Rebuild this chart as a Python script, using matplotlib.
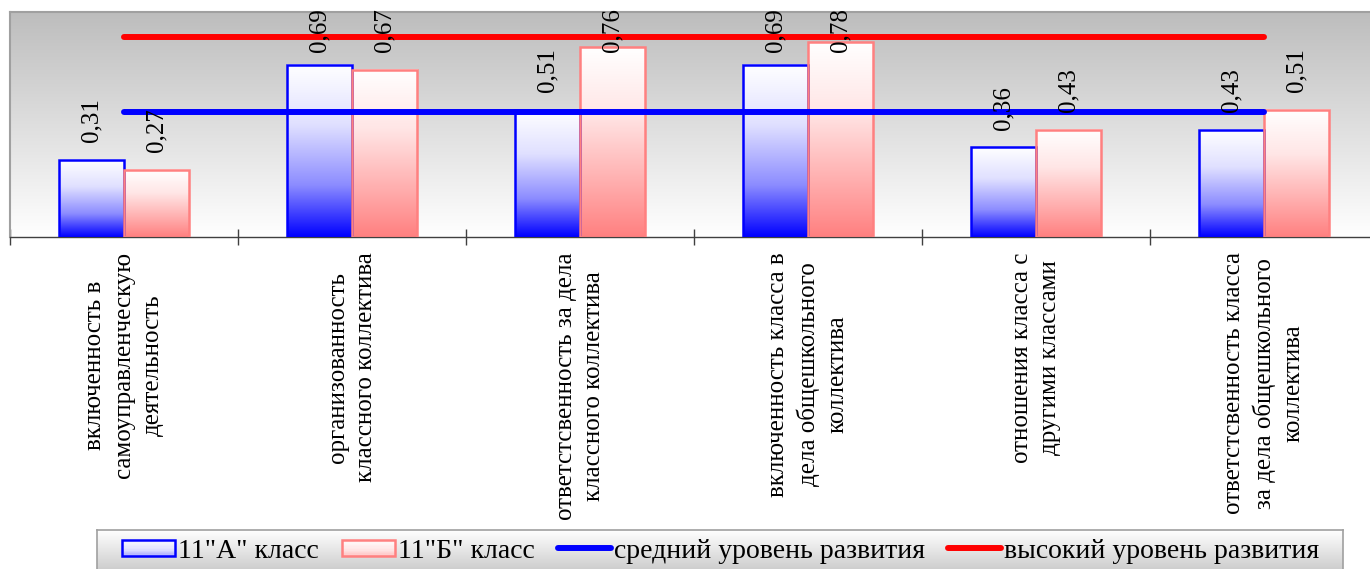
import numpy as np
import matplotlib.pyplot as plt
from matplotlib.colors import LinearSegmentedColormap
from matplotlib.legend_handler import HandlerBase
from matplotlib.patches import Rectangle
from matplotlib.lines import Line2D

plt.rcParams['font.family'] = ['Liberation Serif', 'DejaVu Serif']

# data
categories = [
    "включенность в\nсамоуправленческую\nдеятельность",
    "организованность\nклассного коллектива",
    "ответстсвенность за дела\nклассного коллектива",
    "включенность класса в\nдела общешкольного\nколлектива",
    "отношения класса с\nдругими классами",
    "ответстсвенность класса\nза дела общешкольного\nколлектива",
]
class_a = [0.31, 0.69, 0.51, 0.69, 0.36, 0.43]
class_b = [0.27, 0.67, 0.76, 0.78, 0.43, 0.51]
medium_level = [0.5, 0.5, 0.5, 0.5, 0.5, 0.5]
high_level = [0.8, 0.8, 0.8, 0.8, 0.8, 0.8]
series_names = ['11"А" класс', '11"Б" класс',
                'средний уровень развития', 'высокий уровень развития']

BLUE = '#0000ff'
PINK = '#ff8080'
RED = '#ff0000'

bg_cmap = LinearSegmentedColormap.from_list('bg', ['#bdbdbd', '#ffffff'])
a_cmap = LinearSegmentedColormap.from_list(
    'a', [(0, '#ffffff'), (0.35, '#e0e0ff'), (0.7, '#8c8cff'), (1, BLUE)])
b_cmap = LinearSegmentedColormap.from_list(
    'b', [(0, '#ffffff'), (0.35, '#ffe6e6'), (0.7, '#ffb0b0'), (1, PINK)])
leg_cmap = LinearSegmentedColormap.from_list('lg', ['#ffffff', '#c4c4c4'])

grad = np.linspace(0, 1, 256).reshape(-1, 1)


def fmt(v):
    return f"{v:.2f}".replace('.', ',')


class GradHandler(HandlerBase):
    def __init__(self, cmap, edge):
        super().__init__()
        self.cmap = cmap
        self.edge = edge

    def create_artists(self, legend, orig_handle, xdescent, ydescent,
                       width, height, fontsize, trans):
        arts = []
        n = 12
        h = height * 0.85
        y0 = -ydescent + (height - h) / 2
        for i in range(n):
            c = self.cmap(0.05 + 0.5 * i / (n - 1))
            r = Rectangle((-xdescent, y0 + h - (i + 1) * h / n), width, h / n,
                          facecolor=c, edgecolor='none', transform=trans)
            arts.append(r)
        arts.append(Rectangle((-xdescent, y0), width, h, facecolor='none',
                              edgecolor=self.edge, lw=1.8, transform=trans))
        return arts


fig = plt.figure(figsize=(13.7, 5.69), dpi=100)
ax = fig.add_axes([10 / 1370, 1 - 237 / 569, 1368 / 1370, 225 / 569])

x = np.arange(len(categories))
w = 0.2857

ax.imshow(grad, extent=[-0.5, 5.5, 0, 0.9], aspect='auto', cmap=bg_cmap, zorder=0)

bars_a = ax.bar(x - w / 2, class_a, w, facecolor='none', edgecolor=BLUE,
                linewidth=1.8, zorder=3)
bars_b = ax.bar(x + w / 2, class_b, w, facecolor='none', edgecolor=PINK,
                linewidth=1.8, zorder=3)
for bars, cm in ((bars_a, a_cmap), (bars_b, b_cmap)):
    for b in bars:
        ax.imshow(grad, extent=[b.get_x(), b.get_x() + b.get_width(), 0, b.get_height()],
                  aspect='auto', cmap=cm, zorder=2)

ax.plot(x, medium_level, color=BLUE, lw=4.3, solid_capstyle='round', zorder=4)
ax.plot(x, high_level, color=RED, lw=4.3, solid_capstyle='round', zorder=4)

# value labels above bars (kept inside the chart area at the top)
for bars in (bars_a, bars_b):
    for b in bars:
        v = b.get_height()
        ax.text(b.get_x() + b.get_width() / 2, min(v + 0.068, 0.74), fmt(v),
                rotation=90, ha='center', va='bottom', fontsize=18,
                zorder=5, clip_on=False)

ax.set_xlim(-0.5, 5.5)
ax.set_ylim(0, 0.9)
ax.set_yticks([])

ax.set_xticks(np.arange(-0.5, 6, 1))
ax.set_xticklabels([])
ax.tick_params(axis='x', which='major', direction='inout', length=11,
               color='#404040', width=1)
ax.set_xticks(x, categories, minor=True, rotation=90, fontsize=18)
ax.tick_params(axis='x', which='minor', length=0, pad=11)
for lab in ax.get_xticklabels(minor=True):
    lab.set_linespacing(1.4)

ax.spines['top'].set_color('#a0a0a0')
ax.spines['top'].set_linewidth(1.5)
ax.spines['left'].set_color('#a0a0a0')
ax.spines['left'].set_linewidth(1.5)
ax.spines['right'].set_visible(False)
ax.spines['bottom'].set_color('#404040')
ax.spines['bottom'].set_linewidth(1)

# legend box with gradient
lax = fig.add_axes([97 / 1370, -8 / 569, 1246 / 1370, 47 / 569])
lax.imshow(grad, extent=[0, 1, 0, 1], aspect='auto', cmap=leg_cmap)
lax.set_xticks([])
lax.set_yticks([])
for s in lax.spines.values():
    s.set_color('#a0a0a0')
    s.set_linewidth(1.2)

h_a = Rectangle((0, 0), 1, 1)
h_b = Rectangle((0, 0), 1, 1)
h_m = Line2D([], [], color=BLUE, lw=4.3, solid_capstyle='round')
h_h = Line2D([], [], color=RED, lw=4.3, solid_capstyle='round')
fig.legend([h_a, h_b, h_m, h_h], series_names, ncol=4, frameon=False,
           loc='center', bbox_to_anchor=(0.526, 0.032), fontsize=20,
           handlelength=1.9, handletextpad=0.1, columnspacing=0.85,
           handler_map={h_a: GradHandler(a_cmap, BLUE), h_b: GradHandler(b_cmap, PINK)})

plt.savefig("out.png", dpi=100)
